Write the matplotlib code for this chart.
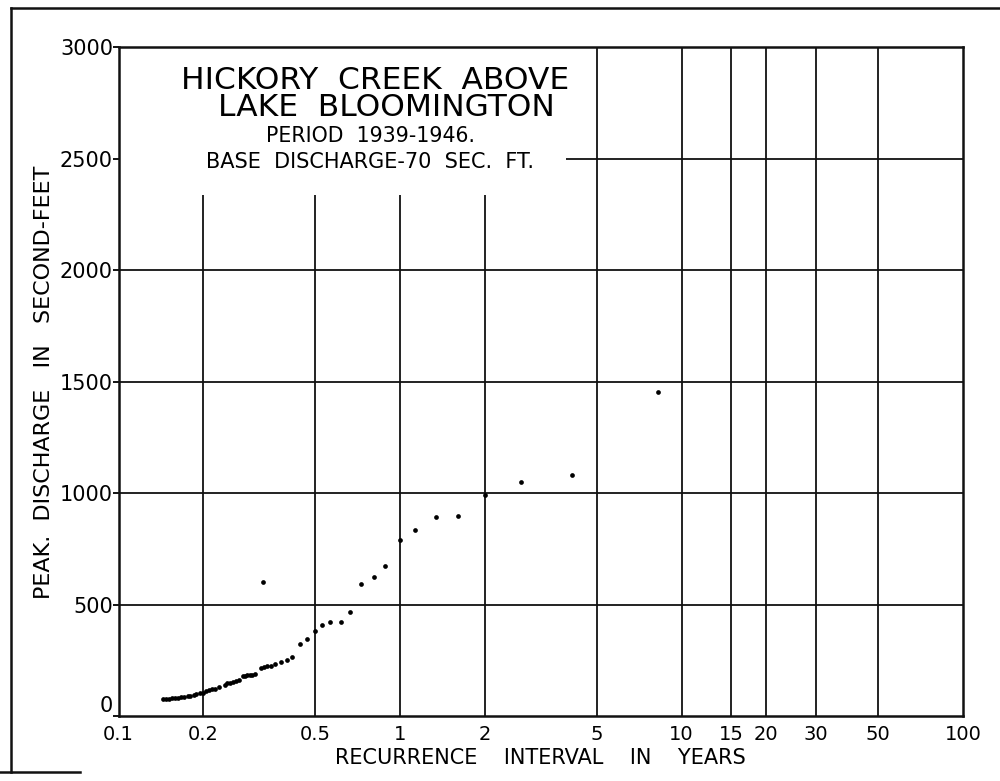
import matplotlib
matplotlib.use("Agg")
import matplotlib.pyplot as plt
from matplotlib.lines import Line2D

plt.rcParams['font.family'] = ['DejaVu Sans']

# Data: recurrence interval (years) vs peak discharge (sec-ft)
recurrence = [0.144, 0.148, 0.151, 0.155, 0.159, 0.163, 0.167, 0.171, 0.176, 0.180,
              0.185, 0.189, 0.194, 0.199, 0.204, 0.209, 0.215, 0.221, 0.227, 0.238,
              0.243, 0.249, 0.255, 0.261, 0.267, 0.277, 0.281, 0.287, 0.292, 0.299,
              0.305, 0.320, 0.329, 0.338, 0.347, 0.359, 0.379, 0.396, 0.415, 0.441,
              0.469, 0.499, 0.527, 0.566, 0.615, 0.664, 0.728, 0.809, 0.887, 1.0,
              1.13, 1.34, 1.61, 2.01, 2.70, 4.08, 8.26, 0.327]
discharge = [77, 78, 79, 81, 83, 84, 86, 88, 90, 92,
             95, 100, 104, 107, 114, 117, 122, 125, 130, 143,
             148, 152, 156, 161, 165, 182, 183, 186, 186, 188,
             189, 219, 222, 225, 228, 234, 244, 253, 269, 327,
             346, 382, 409, 422, 424, 467, 593, 626, 677, 791,
             838, 895, 901, 991, 1050, 1083, 1455, 602]

x_ticks = [0.1, 0.2, 0.5, 1, 2, 5, 10, 15, 20, 30, 50, 100]
x_tick_labels = ["0.1", "0.2", "0.5", "1", "2", "5", "10", "15", "20", "30", "50", "100"]
y_ticks = [0, 500, 1000, 1500, 2000, 2500, 3000]
y_tick_labels = ["0", "500", "1000", "1500", "2000", "2500", "3000"]

short_vlines = [0.2, 0.5, 1, 2]
full_vlines = [5, 10, 15, 20, 30, 50]
full_hlines = [500, 1000, 1500, 2000]
partial_hline = 2500

fig = plt.figure(figsize=(10, 7.81), dpi=100)
ax = fig.add_axes([0.1185, 0.0826, 0.8445, 0.8566])
ax.set_xscale('log')
ax.set_xlim(0.1, 100)
ax.set_ylim(0, 3000)

lc = '#111111'
ax.vlines(short_vlines, 0, 2340, colors=lc, lw=1.3)
ax.vlines(full_vlines, 0, 3000, colors=lc, lw=1.3)
ax.hlines(full_hlines, 0.1, 100, colors=lc, lw=1.3)
ax.hlines([partial_hline], 3.9, 100, colors=lc, lw=1.3)

ax.plot(recurrence, discharge, 'o', color='black', markersize=3.4, markeredgewidth=0)

for s in ax.spines.values():
    s.set_linewidth(1.8)
    s.set_color(lc)

ax.set_xticks(x_ticks)
ax.set_xticklabels(x_tick_labels)
ax.xaxis.set_minor_locator(matplotlib.ticker.NullLocator())
ax.set_yticks(y_ticks)
ax.set_yticklabels(y_tick_labels)
ax.tick_params(axis='x', length=0, pad=6, labelsize=14)
ax.tick_params(axis='y', length=4, width=1.3, pad=0, labelsize=15)
ax.get_yticklabels()[0].set_verticalalignment('bottom')

ax.set_xlabel("RECURRENCE    INTERVAL    IN    YEARS", fontsize=15, labelpad=3)
ax.set_ylabel("PEAK.  DISCHARGE   IN   SECOND-FEET", fontsize=16, labelpad=4)

fig.text(0.375, 1 - 80.7 / 781, "HICKORY  CREEK  ABOVE", ha='center', va='center', fontsize=22.5)
fig.text(0.386, 1 - 107.7 / 781, "LAKE  BLOOMINGTON", ha='center', va='center', fontsize=22.5)
fig.text(0.371, 1 - 136 / 781, "PERIOD  1939-1946.", ha='center', va='center', fontsize=14.8)
fig.text(0.370, 1 - 161.7 / 781, "BASE  DISCHARGE-70  SEC.  FT.", ha='center', va='center', fontsize=15)

# Outer drawing border
fig.add_artist(Line2D([0.011, 1.0], [1 - 8 / 781, 1 - 8 / 781], transform=fig.transFigure, color=lc, lw=1.8))
fig.add_artist(Line2D([0.011, 0.011], [1 - 8 / 781, 1 - 772 / 781], transform=fig.transFigure, color=lc, lw=1.8))
fig.add_artist(Line2D([0.0, 0.08], [1 - 772 / 781, 1 - 772 / 781], transform=fig.transFigure, color=lc, lw=1.8))

fig.savefig("out.png", dpi=100)
